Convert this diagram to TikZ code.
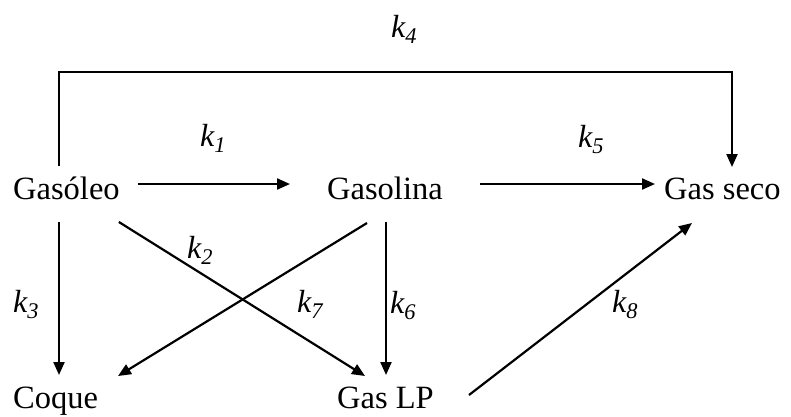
\documentclass[tikz,border=0pt]{standalone}
\usepackage{fontspec}
\setmainfont{Liberation Serif}
\usetikzlibrary{arrows.meta}
\begin{document}
\begin{tikzpicture}[x=1pt,y=-1pt,
  species/.style={anchor=base west,inner sep=0pt,font=\fontsize{32.5}{38}\selectfont},
  rate/.style={anchor=base west,inner sep=0pt,font=\fontsize{32}{38}\selectfont\itshape},
  flow/.style={line width=2.2pt,-{Triangle[length=13pt,width=11pt]}}]
\useasboundingbox (0,0) rectangle (791,416);
\node[species] (gasoleo) at (13,199) {Gasóleo};
\node[species] (gasolina) at (327,199) {Gasolina};
\node[species] (gasseco) at (664,199) {Gas seco};
\node[species] (coque) at (13,408) {Coque};
\node[species] (gaslp) at (337,408) {Gas LP};
\node[rate] (k4) at (391,37) {k\textsubscript{4}};
\node[rate] (k1) at (200,146) {k\textsubscript{1}};
\node[rate] (k5) at (578,147) {k\textsubscript{5}};
\node[rate] (k2) at (187,258) {k\textsubscript{2}};
\node[rate] (k7) at (297,312) {k\textsubscript{7}};
\node[rate] (k6) at (390,313) {k\textsubscript{6}};
\node[rate] (k3) at (13,312) {k\textsubscript{3}};
\node[rate] (k8) at (612,312) {k\textsubscript{8}};
% connectors
\draw[flow] ([shift={(46,-33)}]gasoleo.base west) -- ++(0,-94) -| ([shift={(68,-32)}]gasseco.base west);
\draw[flow] ([shift={(18,-15)}]gasoleo.base east) -- ([shift={(-37,-15)}]gasolina.base west);
\draw[flow] ([shift={(37,-15)}]gasolina.base east) -- ([shift={(-9,-15)}]gasseco.base west);
\draw[flow] ([shift={(46,23)}]gasoleo.base west) -- ([shift={(46,-33)}]coque.base west);
\draw[flow] ([shift={(59,23)}]gasolina.base west) -- ([shift={(49,-33)}]gaslp.base west);
\draw[flow] ([shift={(-1,23)}]gasoleo.base east) -- ([shift={(28,-32)}]gaslp.base west);
\draw[flow] ([shift={(40,24)}]gasolina.base west) -- ([shift={(105,-32)}]coque.base west);
\draw[flow] ([shift={(35,-13)}]gaslp.base east) -- ([shift={(28,24)}]gasseco.base west);
\end{tikzpicture}
\end{document}
